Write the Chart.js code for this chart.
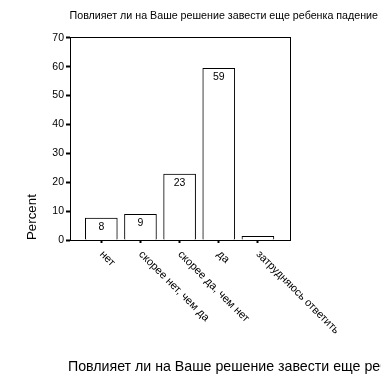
<!DOCTYPE html>
<html>
<head>
<meta charset="utf-8">
<script src="https://cdn.jsdelivr.net/npm/chart.js@4.4.1/dist/chart.umd.min.js"></script>
<style>
  html, body { margin: 0; padding: 0; background: #ffffff; }
  canvas { display: block; }
</style>
</head>
<body>
<canvas id="c" width="381" height="389"></canvas>
<script>
// ---- data ----
const chartTitle = "Повлияет ли на Ваше решение завести еще ребенка падение";
const xAxisTitle = "Повлияет ли на Ваше решение завести еще ребенка падение";
const yAxisTitle = "Percent";
const categories = ["нет", "скорее нет, чем да", "скорее да, чем нет", "да", "затрудняюсь ответить"];
const percentValues = [7.6, 8.9, 22.8, 59.4, 1.3];
const yTicks = [0, 10, 20, 30, 40, 50, 60, 70];

const FONT = "'Liberation Sans', Arial, sans-serif";

const labelAlignPlugin = {
  id: 'labelAlign',
  beforeLayout(chart) {
    const sx = chart.scales.x;
    if (sx) sx._getXAxisLabelAlignment = () => 'left';
  }
};

const valueLabelPlugin = {
  id: 'valueLabels',
  afterDatasetsDraw(chart) {
    const ctx = chart.ctx;
    const meta = chart.getDatasetMeta(0);
    ctx.save();
    ctx.font = "10.5px " + FONT;
    ctx.fillStyle = '#000';
    ctx.textAlign = 'center';
    ctx.textBaseline = 'middle';
    meta.data.forEach((bar, i) => {
      const h = bar.base - bar.y;
      if (h > 14) ctx.fillText(String(Math.round(percentValues[i])), bar.x, bar.y + 9);
    });
    ctx.restore();
  }
};

const bottomTitlePlugin = {
  id: 'bottomTitle',
  afterDraw(chart) {
    const ctx = chart.ctx;
    ctx.save();
    ctx.font = "14.2px " + FONT;
    ctx.fillStyle = '#000';
    ctx.textAlign = 'left';
    ctx.textBaseline = 'middle';
    ctx.fillText(xAxisTitle, chart.chartArea.left - 2, 367);
    ctx.restore();
  }
};

new Chart(document.getElementById('c'), {
  type: 'bar',
  data: {
    datasets: [{
      data: categories.map((c, i) => ({ x: i, y: percentValues[i] })),
      backgroundColor: '#ffffff',
      borderColor: '#000000',
      borderWidth: 1,
      barThickness: 32
    }]
  },
  options: {
    responsive: false,
    animation: false,
    events: [],
    layout: { padding: 0 },
    plugins: {
      legend: { display: false },
      tooltip: { enabled: false },
      title: {
        display: true,
        text: chartTitle + ' ',
        align: 'end',
        color: '#000',
        font: { family: FONT, size: 10.7, weight: 'normal', lineHeight: 1.2 },
        padding: { top: 10, bottom: 15 }
      }
    },
    scales: {
      x: {
        type: 'linear',
        position: 'bottom',
        offset: false,
        min: -0.8,
        max: 4.82,
        afterBuildTicks: (s) => { s.ticks = categories.map((c, i) => ({ value: i })); },
        afterFit: (s) => { s.height = 149; },
        ticks: {
          callback: (v) => categories[v],
          minRotation: -45,
          maxRotation: -45,
          autoSkip: false,
          padding: 5,
          color: '#000',
          font: { family: FONT, size: 11 }
        },
        grid: { display: true, offset: false, drawOnChartArea: false, tickLength: 3, tickWidth: 2, tickColor: '#000' },
        border: { display: true, color: '#000', width: 1 }
      },
      y: {
        type: 'linear',
        position: 'left',
        min: 0,
        max: 70,
        afterBuildTicks: (s) => { s.ticks = yTicks.map(v => ({ value: v })); },
        afterFit: (s) => { s.width = 70; },
        ticks: {
          color: '#000',
          padding: 2,
          font: { family: FONT, size: 10.5 }
        },
        grid: { display: true, drawOnChartArea: false, tickLength: 4, tickWidth: 2, tickColor: '#000' },
        border: { display: true, color: '#000', width: 1 },
        title: {
          display: true,
          text: yAxisTitle,
          align: 'start',
          color: '#000',
          font: { family: FONT, size: 13.3, lineHeight: 1.2 },
          padding: { top: 24, bottom: 0 }
        }
      },
      x2: {
        type: 'linear',
        position: 'top',
        display: true,
        afterFit: (s) => { s.height = 0; },
        ticks: { display: false },
        grid: { display: false, drawTicks: false },
        border: { display: true, color: '#000', width: 1 }
      },
      y2: {
        type: 'linear',
        position: 'right',
        display: true,
        afterFit: (s) => { s.width = 91; },
        ticks: { display: false },
        grid: { display: false, drawTicks: false },
        border: { display: true, color: '#000', width: 1 }
      }
    }
  },
  plugins: [labelAlignPlugin, valueLabelPlugin, bottomTitlePlugin]
});
</script>
</body>
</html>
